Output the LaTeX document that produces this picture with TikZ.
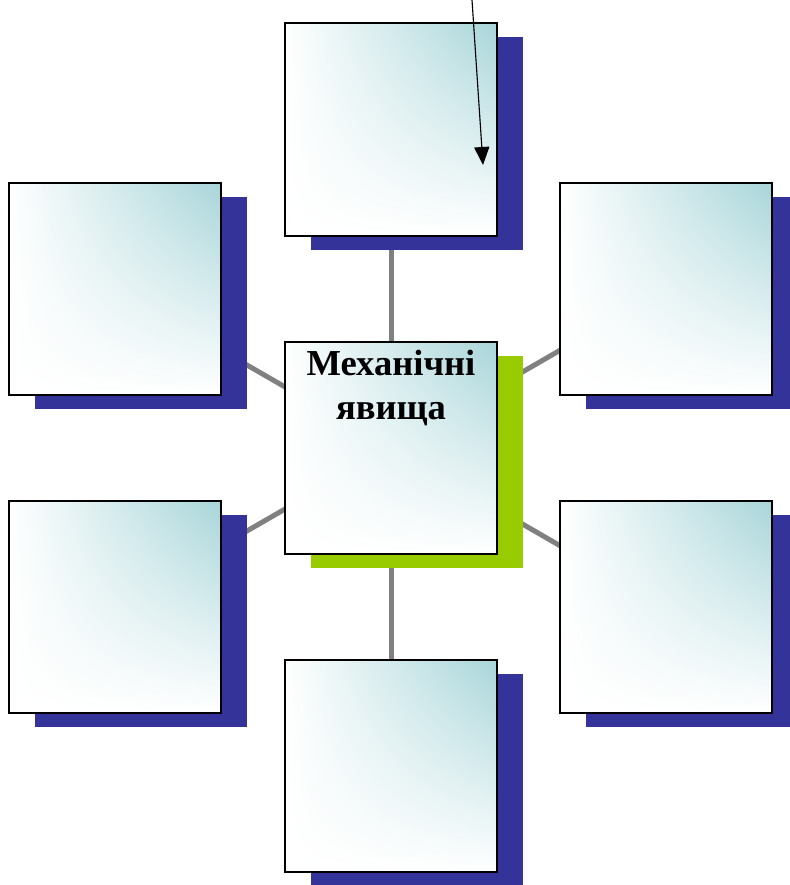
\documentclass[tikz,border=0pt]{standalone}
\usepackage{fontspec}
\setmainfont{Liberation Serif}
\usetikzlibrary{arrows.meta,shadows,shadings,backgrounds}
\definecolor{boxteal}{HTML}{A8D5D9}
\definecolor{shadowblue}{HTML}{333399}
\definecolor{leafgreen}{HTML}{99CC00}

\begin{document}
\begin{tikzpicture}
  [x=0.025cm, y=-0.025cm,
  box/.style={draw, line width=1.4pt, minimum size=5.3cm, inner sep=0pt,
    shading=bilinear interpolation, lower left=white, upper left=white,
    lower right=white, upper right=boxteal},
  blueshadow/.style={drop shadow={shadow xshift=0.65cm, shadow yshift=-0.35cm,
    fill=shadowblue, opacity=1}},
  greenshadow/.style={drop shadow={shadow xshift=0.65cm, shadow yshift=-0.35cm,
    fill=leafgreen, opacity=1}},
  link/.style={draw=gray, line width=0.125cm},
  title/.style={anchor=north, align=center, inner sep=0pt,
    font=\fontsize{26}{31}\selectfont\bfseries}]
  \useasboundingbox (0,0) rectangle (789,885);

  % boxes
  \node[box, blueshadow] (top) at (391,129.5) {};
  \node[box, blueshadow] (lu) at (115,289) {};
  \node[box, blueshadow] (ru) at (666,289) {};
  \node[box, greenshadow] (c) at (391,448) {};
  \node[box, blueshadow] (ll) at (115,607) {};
  \node[box, blueshadow] (rl) at (666,607) {};
  \node[box, blueshadow] (bot) at (391,766) {};
  \node[title] (ctitle) at ([yshift=-0.22cm]c.north) {Механічні\\явища};

  % links
  \begin{scope}[on background layer]
    \draw[link] (c.center) -- (top.center);
    \draw[link] (c.center) -- (bot.center);
    \draw[link] (c.center) -- (lu.center);
    \draw[link] (c.center) -- (ll.center);
    \draw[link] (c.center) -- (ru.center);
    \draw[link] (c.center) -- (rl.center);
  \end{scope}

  \coordinate (arrtop) at (472,0);
  \coordinate (arrtip) at (483,165);
  \draw[line width=0.8pt, -{Triangle[length=0.45cm,width=0.38cm]}] (arrtop) -- (arrtip);
\end{tikzpicture}
\end{document}
